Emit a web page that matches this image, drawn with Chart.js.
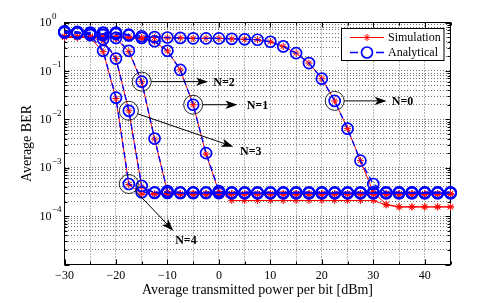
<!DOCTYPE html>
<html>
<head>
<meta charset="utf-8">
<script src="https://cdn.jsdelivr.net/npm/chart.js@4.4.1/dist/chart.umd.min.js"></script>
<style>
  html, body { margin: 0; padding: 0; background: #fff; }
  #wrap { width: 498px; height: 303px; position: relative; }
</style>
</head>
<body>
<div id="wrap"><canvas id="c" width="498" height="303"></canvas></div>
<script>
// ---------------- DATA ----------------
const powerDbm = [-30, -27.5, -25, -22.5, -20, -17.5, -15, -12.5, -10, -7.5, -5, -2.5, 0, 2.5, 5, 7.5, 10, 12.5, 15, 17.5, 20, 22.5, 25, 27.5, 30, 32.5, 35, 37.5, 40, 42.5, 45];

const simN0 = [0.52, 0.51, 0.5, 0.5, 0.5, 0.5, 0.49, 0.49, 0.48, 0.48, 0.47, 0.47, 0.47, 0.46, 0.45, 0.44, 0.4, 0.32, 0.233, 0.145, 0.069, 0.024, 0.0064, 0.0014, 3.1e-4, 1.75e-4, 1.55e-4, 1.55e-4, 1.55e-4, 1.55e-4, 1.55e-4];
const anaN0 = [0.64, 0.62, 0.62, 0.62, 0.62, 0.56, 0.52, 0.5, 0.49, 0.48, 0.47, 0.47, 0.47, 0.46, 0.45, 0.44, 0.4, 0.32, 0.233, 0.145, 0.069, 0.024, 0.0064, 0.0014, 4.6e-4, 3.05e-4, 3.05e-4, 3.05e-4, 3.05e-4, 3.05e-4, 3.05e-4];

const simN1 = [0.5, 0.5, 0.5, 0.5, 0.49, 0.48, 0.46, 0.4, 0.26, 0.105, 0.02, 0.0019, 3.2e-4, 2.1e-4, 2.1e-4, 2.1e-4, 2.1e-4, 2.1e-4, 2.1e-4, 2.1e-4, 2.1e-4, 2.1e-4, 2.1e-4, 2.1e-4, 2.1e-4, 1.7e-4, 1.55e-4, 1.55e-4, 1.55e-4, 1.55e-4, 1.55e-4];
const anaN1 = [0.62, 0.6, 0.6, 0.6, 0.58, 0.54, 0.48, 0.41, 0.26, 0.105, 0.02, 0.002, 3.3e-4, 2.98e-4, 2.98e-4, 2.98e-4, 2.98e-4, 2.98e-4, 2.98e-4, 2.98e-4, 2.98e-4, 2.98e-4, 2.98e-4, 2.98e-4, 2.98e-4, 2.98e-4, 2.98e-4, 2.98e-4, 2.98e-4, 2.98e-4, 2.98e-4];

const simN2 = [0.5, 0.5, 0.5, 0.49, 0.47, 0.25, 0.06, 0.0039, 3.2e-4, 2.9e-4, 2.9e-4, 2.9e-4, 2.9e-4, 2.9e-4, 2.9e-4, 2.9e-4, 2.9e-4, 2.9e-4, 2.9e-4, 2.9e-4, 2.9e-4, 2.9e-4, 2.9e-4, 2.9e-4, 2.9e-4, 2.9e-4, 2.9e-4, 2.9e-4, 2.9e-4, 2.9e-4, 2.9e-4];
const anaN2 = [0.62, 0.6, 0.6, 0.55, 0.48, 0.26, 0.06, 0.004, 3.3e-4, 3.0e-4, 3.0e-4, 3.0e-4, 3.0e-4, 3.0e-4, 3.0e-4, 3.0e-4, 3.0e-4, 3.0e-4, 3.0e-4, 3.0e-4, 3.0e-4, 3.0e-4, 3.0e-4, 3.0e-4, 3.0e-4, 3.0e-4, 3.0e-4, 3.0e-4, 3.0e-4, 3.0e-4, 3.0e-4];

const simN3 = [0.5, 0.5, 0.49, 0.42, 0.18, 0.015, 4.0e-4, 2.9e-4, 2.9e-4, 2.9e-4, 2.9e-4, 2.9e-4, 2.9e-4, 2.9e-4, 2.9e-4, 2.9e-4, 2.9e-4, 2.9e-4, 2.9e-4, 2.9e-4, 2.9e-4, 2.9e-4, 2.9e-4, 2.9e-4, 2.9e-4, 2.9e-4, 2.9e-4, 2.9e-4, 2.9e-4, 2.9e-4, 2.9e-4];
const anaN3 = [0.64, 0.62, 0.6, 0.45, 0.18, 0.015, 4.2e-4, 3.0e-4, 3.0e-4, 3.0e-4, 3.0e-4, 3.0e-4, 3.0e-4, 3.0e-4, 3.0e-4, 3.0e-4, 3.0e-4, 3.0e-4, 3.0e-4, 3.0e-4, 3.0e-4, 3.0e-4, 3.0e-4, 3.0e-4, 3.0e-4, 3.0e-4, 3.0e-4, 3.0e-4, 3.0e-4, 3.0e-4, 3.0e-4];

const simN4 = [0.5, 0.5, 0.48, 0.25, 0.027, 4.5e-4, 2.85e-4, 2.85e-4, 2.85e-4, 2.85e-4, 2.85e-4, 2.85e-4, 2.85e-4, 2.85e-4, 2.85e-4, 2.85e-4, 2.85e-4, 2.85e-4, 2.85e-4, 2.85e-4, 2.85e-4, 2.85e-4, 2.85e-4, 2.85e-4, 2.85e-4, 2.85e-4, 2.85e-4, 2.85e-4, 2.85e-4, 2.85e-4, 2.85e-4];
const anaN4 = [0.66, 0.64, 0.55, 0.26, 0.028, 4.6e-4, 3.1e-4, 3.1e-4, 3.1e-4, 3.1e-4, 3.1e-4, 3.1e-4, 3.1e-4, 3.1e-4, 3.1e-4, 3.1e-4, 3.1e-4, 3.1e-4, 3.1e-4, 3.1e-4, 3.1e-4, 3.1e-4, 3.1e-4, 3.1e-4, 3.1e-4, 3.1e-4, 3.1e-4, 3.1e-4, 3.1e-4, 3.1e-4, 3.1e-4];

const xTickLabels = [-30, -20, -10, 0, 10, 20, 30, 40];
const yTickExponents = [0, -1, -2, -3, -4];
const seriesNames = ['Simulation', 'Analytical'];
const xAxisTitle = 'Average transmitted power per bit [dBm]';
const yAxisTitle = 'Average BER';

// annotation callouts: circled point (series + index), arrow tip and label position in data units
const callouts = [
  { label: 'N=0', series: anaN0, index: 21, tipX: 32.6, tipY: null, textX: 33.6, textY: null },
  { label: 'N=1', series: anaN1, index: 10, tipX: 3.6, tipY: null, textX: 5.4, textY: null },
  { label: 'N=2', series: anaN2, index: 6, tipX: -2.1, tipY: null, textX: -1.1, textY: null },
  { label: 'N=3', series: anaN3, index: 5, tipX: 2.8, tipY: 0.00272, textX: 4.1, textY: 0.00221 },
  { label: 'N=4', series: anaN4, index: 5, tipX: -8.86, tipY: 5.0e-5, textX: -8.5, textY: 3.16e-5 }
];

// ---------------- CHART ----------------
const RED = 'rgb(255,0,0)';
const BLUE = 'rgb(0,0,255)';
const SERIF = '"Liberation Serif", "Times New Roman", serif';

function pts(arr) { return arr.map((v, i) => ({ x: powerDbm[i], y: v })); }

function simSet(arr) {
  return {
    label: seriesNames[0], data: pts(arr), borderColor: RED, backgroundColor: RED,
    borderWidth: 1, pointStyle: 'star', pointRadius: 3.5, pointBorderColor: RED,
    pointBorderWidth: 1, pointBackgroundColor: RED, tension: 0, fill: false, clip: false, order: 2
  };
}
function anaSet(arr) {
  return {
    label: seriesNames[1], data: pts(arr), borderColor: BLUE, backgroundColor: 'rgba(0,0,0,0)',
    borderWidth: 1.4, borderDash: [6, 4], pointStyle: 'circle', pointRadius: 5.5,
    pointBorderColor: BLUE, pointBorderWidth: 1.7, pointBackgroundColor: 'rgba(0,0,0,0)',
    tension: 0, fill: false, clip: false, order: 1
  };
}

const datasets = [
  simSet(simN0), anaSet(anaN0),
  simSet(simN1), anaSet(anaN1),
  simSet(simN2), anaSet(anaN2),
  simSet(simN3), anaSet(anaN3),
  simSet(simN4), anaSet(anaN4)
];

const axesPlugin = {
  id: 'matlabAxes',
  beforeDatasetsDraw(chart) {
    const { ctx, chartArea: a, scales: { x, y } } = chart;
    ctx.save();
    ctx.strokeStyle = '#000';
    ctx.lineWidth = 1;
    ctx.beginPath();
    x.ticks.forEach(t => {
      const px = Math.round(x.getPixelForValue(t.value)) + 0.5;
      const len = (t.value % 10 === 0) ? 5 : 3;
      ctx.moveTo(px, a.bottom); ctx.lineTo(px, a.bottom - len);
      ctx.moveTo(px, a.top); ctx.lineTo(px, a.top + len);
    });
    y.ticks.forEach(t => {
      const py = Math.round(y.getPixelForValue(t.value)) + 0.5;
      const lg = Math.log10(t.value);
      const major = Math.abs(lg - Math.round(lg)) < 1e-9;
      const len = major ? 5 : 3;
      ctx.moveTo(a.left, py); ctx.lineTo(a.left + len, py);
      ctx.moveTo(a.right, py); ctx.lineTo(a.right - len, py);
    });
    ctx.stroke();
    ctx.strokeRect(a.left, a.top, a.right - a.left, a.bottom - a.top);
    ctx.restore();
  },
  afterDatasetsDraw(chart) {
    const { ctx, chartArea: a, scales: { x, y } } = chart;
    ctx.save();
    callouts.forEach(c => {
      const cx = x.getPixelForValue(powerDbm[c.index]);
      const cy = y.getPixelForValue(c.series[c.index]);
      const tx = x.getPixelForValue(c.tipX);
      const ty = c.tipY === null ? cy : y.getPixelForValue(c.tipY);
      const r = 9.5;
      ctx.strokeStyle = '#111';
      ctx.lineWidth = 0.9;
      ctx.beginPath(); ctx.arc(cx, cy, r, 0, Math.PI * 2); ctx.stroke();
      const ang = Math.atan2(ty - cy, tx - cx);
      const sx = cx + r * Math.cos(ang), sy = cy + r * Math.sin(ang);
      const L = 12, W = 4.2, N = 3;
      const bx = tx - L * Math.cos(ang), by = ty - L * Math.sin(ang);
      ctx.beginPath(); ctx.moveTo(sx, sy);
      ctx.lineTo(tx - (L - N) * Math.cos(ang), ty - (L - N) * Math.sin(ang));
      ctx.strokeStyle = '#000'; ctx.lineWidth = 1; ctx.stroke();
      const nx = -Math.sin(ang), ny = Math.cos(ang);
      ctx.beginPath();
      ctx.moveTo(tx, ty);
      ctx.lineTo(bx + nx * W, by + ny * W);
      ctx.lineTo(tx - (L - N) * Math.cos(ang), ty - (L - N) * Math.sin(ang));
      ctx.lineTo(bx - nx * W, by - ny * W);
      ctx.closePath();
      ctx.fillStyle = '#000'; ctx.fill();
      const lx = x.getPixelForValue(c.textX);
      const ly = c.textY === null ? cy : y.getPixelForValue(c.textY);
      ctx.font = 'bold 12px ' + SERIF;
      ctx.textAlign = 'left'; ctx.textBaseline = 'middle';
      ctx.fillText(c.label, lx, ly + 1);
    });
    ctx.restore();
  },
  afterDraw(chart) {
    const { ctx, chartArea: a, scales: { x, y } } = chart;
    ctx.save();
    ctx.fillStyle = '#000';
    ctx.font = '12px ' + SERIF;
    ctx.textAlign = 'center'; ctx.textBaseline = 'alphabetic';
    xTickLabels.forEach(v => {
      const s = v < 0 ? '\u2212' + Math.abs(v) : String(v);
      ctx.fillText(s, x.getPixelForValue(v), 279);
    });
    yTickExponents.forEach(e => {
      const py = y.getPixelForValue(Math.pow(10, e));
      ctx.font = '12px ' + SERIF;
      ctx.textAlign = 'right'; ctx.textBaseline = 'middle';
      ctx.fillText('10', 51.5, py + 0.5);
      ctx.font = '9px ' + SERIF;
      ctx.textAlign = 'left';
      ctx.fillText(e < 0 ? '\u2212' + Math.abs(e) : String(e), 52, py - 6);
    });
    ctx.font = '14px ' + SERIF;
    ctx.textAlign = 'center'; ctx.textBaseline = 'alphabetic';
    ctx.fillText(xAxisTitle, (a.left + a.right) / 2, 293.5);
    ctx.save();
    ctx.translate(27.5, (a.top + a.bottom) / 2);
    ctx.rotate(-Math.PI / 2);
    ctx.textBaseline = 'middle';
    ctx.fillText(yAxisTitle, 0, 0);
    ctx.restore();
    // legend
    const lx = 341.5, ly = 28.5, lw = 102.5, lh = 32;
    ctx.fillStyle = '#fff';
    ctx.fillRect(lx, ly, lw, lh);
    ctx.strokeStyle = '#000'; ctx.lineWidth = 1;
    ctx.strokeRect(lx, ly, lw, lh);
    const y1 = 37.5, y2 = 52.5;
    ctx.strokeStyle = RED; ctx.lineWidth = 1;
    ctx.beginPath(); ctx.moveTo(350, y1); ctx.lineTo(384, y1); ctx.stroke();
    Chart.helpers.drawPoint(ctx, { pointStyle: 'star', radius: 3.5, rotation: 0, borderWidth: 1 }, 367, y1);
    ctx.strokeStyle = BLUE; ctx.lineWidth = 1.4;
    ctx.beginPath(); ctx.moveTo(350, y2); ctx.lineTo(358, y2); ctx.moveTo(376, y2); ctx.lineTo(384, y2); ctx.stroke();
    ctx.lineWidth = 1.7;
    ctx.beginPath(); ctx.arc(367, y2, 5.5, 0, Math.PI * 2); ctx.stroke();
    ctx.fillStyle = '#000';
    ctx.font = '12px ' + SERIF;
    ctx.textAlign = 'left'; ctx.textBaseline = 'middle';
    ctx.fillText(seriesNames[0], 388, y1 + 0.5);
    ctx.fillText(seriesNames[1], 388, y2 + 0.5);
    ctx.restore();
  }
};

const gridColor = 'rgba(0,0,0,0.55)';

new Chart(document.getElementById('c'), {
  type: 'line',
  data: { datasets },
  options: {
    responsive: false,
    animation: false,
    devicePixelRatio: 1,
    layout: { padding: { left: 0, top: 22.5, right: 47.5, bottom: 0 } },
    plugins: { legend: { display: false }, tooltip: { enabled: false } },
    scales: {
      x: {
        type: 'linear', min: -30, max: 45,
        ticks: { display: false, stepSize: 5, autoSkip: false },
        grid: { color: gridColor, lineWidth: 1, drawTicks: false },
        border: { display: false, dash: [1, 2] },
        afterFit(scale) { scale.height = 303 - 264.5; }
      },
      y: {
        type: 'logarithmic', min: 1e-5, max: 1,
        ticks: { display: false, autoSkip: false },
        grid: { color: gridColor, lineWidth: 1, drawTicks: false },
        border: { display: false, dash: [1, 2] },
        afterBuildTicks(scale) {
          const t = [];
          for (let e = -5; e < 0; e++) {
            for (let m = 1; m <= 9; m++) t.push({ value: m * Math.pow(10, e) });
          }
          t.push({ value: 1 });
          scale.ticks = t;
        },
        afterFit(scale) { scale.width = 64.5; }
      }
    }
  },
  plugins: [axesPlugin]
});
</script>
</body>
</html>
